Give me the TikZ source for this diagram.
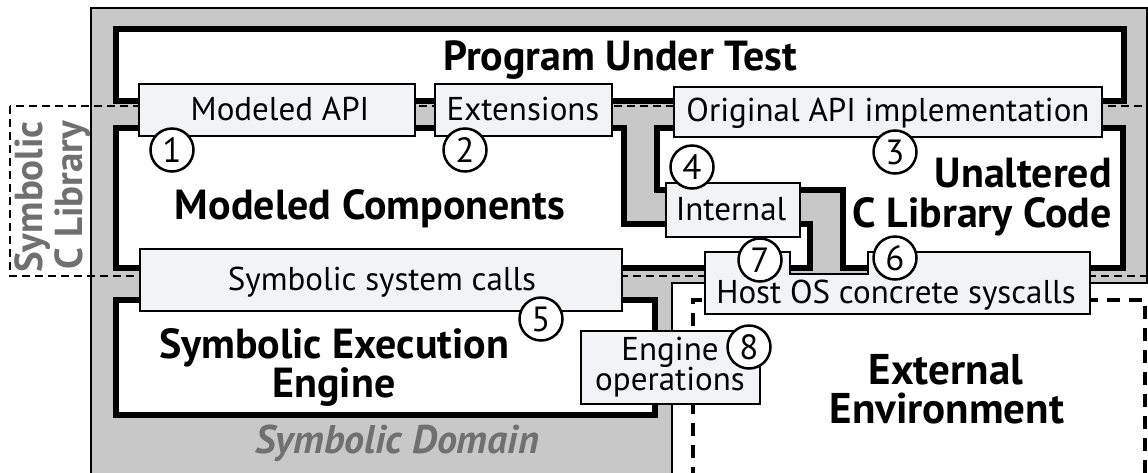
\documentclass[tikz,border=0pt]{standalone}
\usepackage{fontspec}
\setmainfont{PT Sans}
\usepackage{tikz}
\definecolor{domaingray}{RGB}{200,200,200}
\definecolor{ifacefill}{RGB}{242,243,245}
\definecolor{labelgray}{RGB}{112,112,112}
\tikzset{
	zone/.style={draw=black,line width=6pt,fill=white},
	iface/.style={draw=black,line width=2.5pt,fill=ifacefill},
	marker/.style={circle,draw=black,line width=2.5pt,fill=white,minimum size=43pt,inner sep=0pt,font=\fontsize{35}{35}\selectfont},
	bigtext/.style={font=\fontsize{42}{40}\selectfont\bfseries,anchor=base,inner sep=0pt},
	smalltext/.style={font=\fontsize{33}{33}\selectfont,anchor=base,inner sep=0pt}
}

\begin{document}
\begin{tikzpicture}[x=1pt,y=-1pt]
	\useasboundingbox (0,0) rectangle (1148,472);

	% symbolic domain and the outside world
	\draw[line width=2pt,fill=domaingray] (91,8) -- (1147,8) -- (1147,283) -- (672,283) -- (672,480) -- (91,480) -- cycle;
	\draw[line width=3.5pt,dash pattern=on 13pt off 9pt] (693,480) -- (693,300) -- (1145,300) -- (1145,480);
	\draw[line width=2.5pt,dash pattern=on 8pt off 5pt] (10,106) rectangle (1147,276);

	% components
	\draw[zone] (116,29) rectangle (1124,101);
	\draw[zone] (116,128) -- (624,128) -- (624,224) -- (810,224) -- (810,268) -- (116,268) -- cycle;
	\draw[zone] (657,128) -- (1123,128) -- (1123,268) -- (843,268) -- (843,190) -- (657,190) -- cycle;
	\draw[zone] (116,300) rectangle (655,415);

	% interfaces
	\draw[iface] (139,84) rectangle (415,136);
	\draw[iface] (435,84) rectangle (612,136);
	\draw[iface] (674,87) rectangle (1102,137);
	\draw[iface] (666,183) rectangle (800,237);
	\draw[iface] (140,249) rectangle (622,311);
	\draw[iface] (705,252) -- (790,252) -- (790,274) -- (868,274) -- (868,252) -- (1090,252) -- (1090,314) -- (705,314) -- cycle;
	\draw[iface] (581,331) rectangle (760,404);

	\node[smalltext] (api) at (280,120) {Modeled API};
	\node[smalltext] (ext) at (523,120) {Extensions};
	\node[smalltext] (orig) at (888,121) {Original API implementation};
	\node[smalltext] (int) at (731,220) {Internal};
	\node[smalltext] (syscalls) at (382,290) {Symbolic system calls};
	\node[smalltext] (hostos) at (896,303) {Host OS concrete syscalls};
	\node[smalltext] (engop1) at (670,360) {Engine};
	\node[smalltext] (engop2) at (670,390) {operations};

	% numbered markers
	\node[marker] (m1) at (172,150) {1};
	\node[marker] (m2) at (465,150) {2};
	\node[marker] (m3) at (895,152) {3};
	\node[marker] (m4) at (692,167) {4};
	\node[marker] (m5) at (541,319) {5};
	\node[marker] (m6) at (895,258) {6};
	\node[marker] (m7) at (760,260) {7};
	\node[marker] (m8) at (749,347) {8};

	% titles
	\node[bigtext] (put) at (620,70) {Program Under Test};
	\node[bigtext] (mc) at (370,219) {Modeled Components};
	\node[bigtext,anchor=base east] (unalt1) at (1112,187) {Unaltered};
	\node[bigtext,anchor=base east] (unalt2) at (1112,227) {C Library Code};
	\node[bigtext] (see1) at (334,358) {Symbolic Execution};
	\node[bigtext] (see2) at (334,397) {Engine};
	\node[bigtext,font=\fontsize{43}{40}\selectfont\bfseries] (env1) at (946,384) {External};
	\node[bigtext,font=\fontsize{43}{40}\selectfont\bfseries] (env2) at (947,423) {Environment};
	\node[bigtext,text=labelgray,font=\fontsize{40}{40}\selectfont\bfseries\itshape] (dom) at (397,453) {Symbolic Domain};
	\node[bigtext,text=labelgray,rotate=90,font=\fontsize{39}{39}\selectfont\bfseries] (lib1) at (42,197) {Symbolic};
	\node[bigtext,text=labelgray,rotate=90,font=\fontsize{39}{39}\selectfont\bfseries] (lib2) at (82,195) {C Library};

\end{tikzpicture}
\end{document}
